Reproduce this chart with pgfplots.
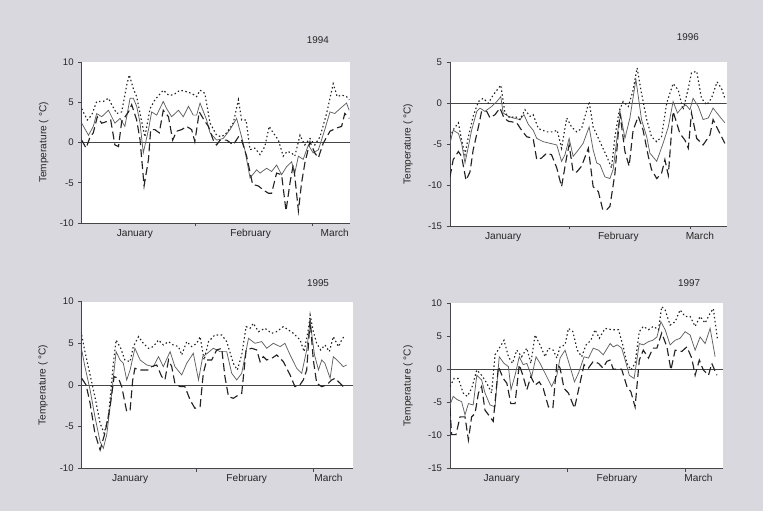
\documentclass[border=0pt]{standalone}
\usepackage{fontspec}
\setmainfont{Liberation Sans}
\usepackage{pgfplots}
\pgfplotsset{compat=1.18}
\definecolor{bg}{RGB}{217,216,222}
\definecolor{axisgray}{RGB}{70,70,70}
\definecolor{meangray}{RGB}{95,95,95}
\definecolor{dark}{RGB}{35,35,35}
\pgfplotsset{
  panel/.style={
    scale only axis,
    axis x line*=bottom, axis y line*=left,
    axis line style={draw=axisgray, line width=0.7pt},
    axis background/.style={fill=white},
    xmin=0, ytick distance=5,
    tick align=outside, major tick length=2.5pt,
    tick style={draw=axisgray, line width=0.5pt},
    ticklabel style={font=\fontsize{7.2}{8}\selectfont, text=black!85},
    /pgf/number format/assume math mode=true,
    xticklabels={},
    extra x tick style={major tick length=0pt, tick style={draw=none}},
    extra x tick labels={January,February,March},
    extra x tick style={xticklabel style={font=\fontsize{7.6}{8}\selectfont, yshift=-1pt}},
    ylabel={Temperature ( °C)},
    ylabel style={font=\fontsize{7.6}{8}\selectfont, text=black!85, anchor=center},
    title style={font=\fontsize{7.4}{8}\selectfont, text=black!85, anchor=center},
    clip=true,
  },
  mean/.style={meangray, line width=0.55pt},
  maxs/.style={dark, line width=0.85pt, dash pattern=on 1.1pt off 1.9pt},
  mins/.style={dark, line width=0.85pt, dash pattern=on 6pt off 3pt},
  zero/.style={axisgray, line width=0.6pt},
}
\begin{document}
\begin{tikzpicture}
\useasboundingbox (0pt,0pt) rectangle (572.25pt,383.25pt);
\fill[bg] (0pt,0pt) rectangle (572.25pt,383.25pt);

% ---------------- 1994 ----------------
\begin{axis}[panel, at={(61.28pt,216pt)}, anchor=south west,
  width=201.2pt, height=120.75pt,
  xmax=67.1, ymin=-10, ymax=10,
  xtick={28.5,57.7}, extra x ticks={13.3,42.25,63.3},
  ylabel style={at={(axis description cs:-0.1416,0.5)}},
  title={1994}, title style={at={(axis description cs:0.88,1)}, yshift=10.5pt}]
\addplot[zero] coordinates {(0,0) (67.1,0)};
\addplot[mean] coordinates {(0,2.4) (1.7,0.9) (2.9,2.0) (3.75,3.6) (5.0,3.2) (6.7,4.0) (8.3,2.4) (9.6,3.0) (10.8,2.0) (12.1,5.5) (12.9,5.5) (13.75,4.5) (14.6,2.4) (15.4,-1.3) (16.7,1.6) (17.5,3.8) (18.75,3.4) (20.4,5.1) (21.25,4.2) (22.5,3.2) (24.2,4.0) (25.4,3.2) (26.7,4.5) (27.9,3.4) (28.75,3.4) (29.6,4.9) (31.25,2.8) (32.1,1.2) (33.75,0.3) (35.4,0.5) (37.1,1.6) (38.75,3.0) (40.0,0.7) (40.8,-0.9) (42.1,-4.4) (43.75,-3.4) (44.6,-3.8) (46.25,-3.2) (47.5,-3.6) (48.75,-2.8) (50.0,-4.0) (51.25,-3.0) (52.5,-2.4) (53.3,-3.8) (54.2,-1.7) (55.4,-2.1) (56.7,-0.3) (57.9,-1.3) (59.2,-0.9) (60.8,1.6) (62.1,3.8) (63.3,3.6) (64.6,4.2) (66.25,4.9) (66.9,4.0)};
\addplot[maxs] coordinates {(0,4.2) (1.4,2.8) (2.5,3.4) (3.75,5.1) (5.4,5.1) (6.7,5.5) (7.5,4.7) (8.75,3.6) (10.0,3.8) (11.25,7.1) (11.9,8.4) (12.9,6.7) (13.75,5.7) (15.0,2.6) (15.8,0.7) (17.1,4.2) (18.3,5.3) (20.4,6.5) (21.7,5.9) (22.9,5.9) (24.6,6.5) (26.25,6.3) (27.5,6.1) (28.75,5.7) (29.6,6.5) (30.8,6.1) (32.1,2.4) (33.75,0.9) (35.0,0.7) (36.25,1.2) (37.9,2.4) (39.2,5.3) (40.0,2.8) (41.1,2.8) (42.1,-0.9) (43.3,-0.7) (44.6,-1.5) (45.8,-0.5) (46.9,2.0) (47.9,1.2) (49.2,0.3) (50.4,-1.7) (51.4,-1.1) (52.5,-1.3) (53.3,-1.7) (54.6,0.9) (55.8,-0.3) (57.1,0.5) (58.3,-0.3) (59.6,0.7) (61.25,3.6) (62.9,7.3) (63.9,5.7) (65.0,5.9) (66.25,5.7) (66.9,5.3)};
\addplot[mins] coordinates {(0,0.3) (1.1,-0.7) (2.1,0.7) (2.9,1.2) (3.9,3.2) (5.0,2.4) (6.25,2.6) (7.25,2.8) (8.3,-0.3) (9.2,-0.5) (10.0,2.6) (11.7,3.8) (12.5,4.7) (13.75,2.8) (14.6,0.3) (15.6,-5.4) (16.7,-2.1) (17.25,1.6) (18.3,1.6) (19.4,1.2) (20.4,4.0) (21.7,3.2) (22.75,0.3) (23.75,1.4) (25.0,1.6) (26.25,2.0) (27.5,1.6) (28.3,0.1) (29.4,3.8) (30.6,2.8) (31.7,2.0) (32.9,0.3) (33.75,-0.3) (34.6,0.3) (36.25,0.3) (37.9,-0.3) (39.2,0.7) (40.0,0.3) (41.25,-1.7) (42.75,-5.2) (44.2,-5.4) (45.4,-5.9) (46.7,-6.3) (47.5,-6.3) (48.75,-3.8) (50.0,-4.0) (51.1,-8.5) (52.1,-5.0) (52.9,-2.8) (53.3,-4.2) (54.2,-8.5) (55.0,-5.0) (55.8,-2.6) (57.1,0.1) (58.3,-1.3) (59.2,-1.9) (60.4,-0.1) (62.1,1.4) (63.75,1.8) (65.0,2.0) (65.8,3.6) (66.9,3.0)};
\end{axis}

% ---------------- 1996 ----------------
\begin{axis}[panel, at={(337.5pt,213.75pt)}, anchor=south west,
  width=207.5pt, height=122.8pt,
  xmax=69.2, ymin=-15, ymax=5,
  xtick={29.75,60}, extra x ticks={13.3,42.1,62.5},
  ylabel style={at={(axis description cs:-0.1518,0.5)}},
  title={1996}, title style={at={(axis description cs:0.86,1)}, yshift=12.7pt}]
\addplot[zero] coordinates {(0,0) (69.2,0)};
\addplot[mean] coordinates {(0,-4.9) (0.8,-3.3) (2.1,-3.7) (2.9,-4.9) (3.75,-7.3) (4.6,-5.3) (5.4,-3.3) (6.7,-1.0) (7.5,-0.6) (8.75,-1.0) (10.4,-0.4) (11.7,0.2) (12.7,0.8) (13.3,-1.2) (14.6,-1.6) (15.8,-1.8) (17.5,-2.0) (18.5,-1.4) (19.6,-2.6) (20.8,-3.3) (21.7,-4.3) (23.3,-4.7) (25.0,-4.9) (26.7,-5.1) (27.9,-7.1) (28.75,-6.3) (29.8,-4.3) (30.8,-6.5) (32.1,-5.7) (33.3,-4.9) (34.8,-2.9) (35.8,-5.7) (36.7,-7.3) (37.5,-7.5) (38.75,-9.0) (40.0,-9.2) (40.8,-8.1) (42.1,-2.9) (42.7,-1.4) (43.75,-4.3) (45.0,-1.8) (46.5,2.9) (47.9,-2.0) (49.2,-4.1) (50.0,-6.1) (51.7,-7.1) (53.3,-4.9) (54.6,-2.9) (55.8,0.2) (56.9,-1.2) (57.9,-0.6) (59.0,-0.2) (60.0,-0.8) (60.8,0.6) (62.1,-0.4) (63.3,-2.0) (64.6,-1.8) (65.8,-0.6) (67.1,-1.4) (68.75,-2.4)};
\addplot[maxs] coordinates {(0,-4.1) (1.0,-3.1) (2.1,-2.4) (2.9,-4.5) (3.75,-6.3) (4.6,-4.1) (5.8,-1.6) (7.1,0.2) (8.3,0.6) (9.6,0) (10.8,1.0) (12.7,2.2) (13.75,-1.2) (15.0,-1.8) (16.25,-1.6) (17.5,-2.0) (18.75,-0.8) (20.0,-1.6) (20.8,-1.4) (22.1,-3.1) (24.2,-3.5) (25.8,-3.5) (26.8,-3.3) (27.9,-5.5) (29.2,-1.8) (30.4,-2.9) (31.7,-3.5) (32.9,-3.1) (34.8,0.2) (35.8,-2.9) (37.5,-4.7) (39.2,-6.5) (40.4,-7.9) (41.25,-4.1) (42.3,-1.0) (43.3,0.2) (44.6,-0.4) (45.7,1.4) (46.8,4.3) (47.9,1.2) (49.2,-2.0) (50.4,-4.1) (51.7,-4.7) (52.9,-4.1) (54.2,0) (55.8,2.4) (57.1,1.6) (58.3,-0.8) (59.6,1.8) (60.4,3.7) (61.7,3.9) (62.9,0.6) (64.2,-0.2) (65.4,0.6) (66.8,2.6) (67.9,1.8) (68.75,0.6)};
\addplot[mins] coordinates {(0,-9.0) (0.8,-6.9) (2.1,-5.9) (2.9,-6.5) (4.0,-9.4) (5.0,-8.4) (5.8,-5.7) (7.1,-2.9) (7.9,-1.0) (9.2,-1.0) (10.0,-1.8) (11.25,-1.4) (12.5,-0.6) (13.5,-1.8) (14.6,-2.2) (16.7,-2.4) (17.9,-3.3) (19.2,-4.1) (20.8,-4.3) (21.7,-6.9) (22.9,-6.7) (24.2,-6.1) (25.4,-6.3) (26.7,-7.9) (27.9,-10.2) (29.2,-6.5) (29.8,-5.1) (30.8,-8.4) (31.7,-8.4) (32.9,-7.7) (34.6,-5.5) (35.8,-10.2) (37.1,-10.8) (38.2,-13.0) (39.2,-13.0) (40.0,-12.6) (41.25,-8.6) (42.5,-1.2) (43.75,-5.9) (44.8,-7.7) (45.8,-3.3) (47.1,-1.6) (48.3,-3.3) (49.6,-6.5) (50.4,-8.1) (51.7,-9.2) (52.9,-8.6) (53.75,-6.9) (54.6,-8.8) (55.8,-1.0) (57.5,-3.7) (58.75,-4.5) (59.6,-5.5) (60.4,-1.2) (61.7,-4.3) (63.3,-5.1) (65.0,-3.9) (65.8,-2.0) (67.1,-3.3) (68.75,-4.9)};
\end{axis}

% ---------------- 1995 ----------------
\begin{axis}[panel, at={(61.28pt,32.03pt)}, anchor=south west,
  width=203.7pt, height=125pt,
  xmax=67.9, ymin=-10, ymax=10,
  xtick={28.75,57.8}, extra x ticks={12.1,41.25,61.7},
  ylabel style={at={(axis description cs:-0.1425,0.5)}},
  title={1995}, title style={at={(axis description cs:0.87,1)}, yshift=8pt}]
\addplot[zero] coordinates {(0,0) (67.9,0)};
\addplot[mean] coordinates {(0,4.2) (0.8,2.2) (2.1,-0.6) (3.3,-3.8) (4.6,-6.8) (5.4,-7.6) (6.25,-6.0) (7.5,-1.0) (8.6,4.0) (9.6,3.0) (10.4,2.6) (11.25,0.6) (12.1,1.8) (13.3,4.4) (14.6,3.0) (16.25,2.4) (17.9,2.2) (19.2,3.4) (20.4,2.2) (22.1,4.0) (23.3,2.2) (25.0,1.2) (26.25,2.6) (27.9,3.8) (29.2,0.6) (30.25,3.4) (31.4,3.8) (32.9,4.4) (34.6,4.0) (36.25,4.0) (37.5,1.4) (38.75,0.6) (40.0,1.4) (41.7,5.6) (43.3,5.0) (45.0,5.2) (46.25,4.4) (47.9,5.0) (49.6,4.6) (50.8,5.0) (52.1,3.6) (53.75,2.0) (55.0,1.4) (56.25,4.2) (57.1,7.6) (58.2,3.6) (59.2,1.8) (60.0,3.0) (60.8,2.6) (62.1,0.8) (62.9,3.4) (64.2,2.8) (65.4,2.2) (66.25,2.4)};
\addplot[maxs] coordinates {(0,6.0) (0.8,4.0) (2.1,1.2) (3.3,-1.4) (4.6,-4.6) (5.6,-5.8) (6.7,-3.8) (7.9,2.6) (8.6,5.4) (9.75,4.4) (10.8,3.0) (12.1,2.8) (12.9,4.6) (14.2,5.8) (15.4,5.0) (16.7,4.4) (17.9,4.6) (19.2,5.4) (20.4,4.8) (21.7,5.2) (22.9,4.8) (24.2,4.6) (25.0,3.6) (26.25,5.2) (27.5,4.6) (28.75,5.0) (29.6,5.8) (30.6,3.0) (31.7,5.2) (33.3,6.0) (35.0,6.0) (36.25,5.2) (37.9,2.6) (38.9,1.8) (40.0,3.6) (41.1,7.0) (42.1,6.8) (42.9,7.4) (44.2,6.4) (45.8,6.8) (47.5,6.2) (48.75,6.4) (50.4,7.0) (51.7,6.6) (52.9,6.2) (54.6,5.4) (55.6,4.0) (56.7,6.8) (57.1,8.4) (57.9,6.4) (58.75,5.0) (59.75,4.2) (60.8,4.8) (61.9,4.0) (62.9,5.8) (64.2,4.6) (65.0,5.4) (65.8,6.0)};
\addplot[mins] coordinates {(0,0.8) (1.1,0) (2.1,-2.2) (3.3,-5.8) (4.6,-7.8) (5.8,-5.8) (7.1,-2.6) (8.1,1.0) (9.2,0.8) (10.0,-0.2) (11.25,-3.2) (12.1,-3.0) (12.75,0.6) (13.3,2.0) (14.6,1.8) (15.8,1.8) (16.7,1.8) (17.5,2.2) (18.75,2.4) (20.0,1.0) (20.8,0.6) (21.7,3.0) (22.5,2.2) (23.3,0.2) (24.6,-0.2) (25.8,-0.2) (27.1,-1.8) (28.3,-2.8) (29.6,-2.6) (30.4,1.4) (31.25,3.0) (32.5,3.0) (33.75,4.2) (35.0,4.4) (35.8,1.0) (36.7,-1.4) (37.9,-1.6) (39.2,-1.2) (40.0,-1.0) (41.1,4.2) (42.5,4.4) (43.75,4.2) (44.6,2.8) (45.4,3.4) (46.25,3.0) (47.5,3.2) (48.75,3.6) (49.6,3.2) (50.4,2.8) (52.1,1.2) (53.3,-0.2) (54.4,-0.1) (55.4,0.6) (56.25,1.8) (57.1,7.8) (57.9,3.0) (58.75,0.2) (60.0,-0.2) (61.25,0) (62.5,0.6) (63.3,0.8) (64.6,0.2) (65.4,-0.2)};
\end{axis}

% ---------------- 1997 ----------------
\begin{axis}[panel, at={(337.5pt,32.03pt)}, anchor=south west,
  width=205pt, height=123.75pt,
  xmax=68.3, ymin=-15, ymax=10,
  xtick={29.2,58.75}, extra x ticks={12.9,41.7,62.1},
  ylabel style={at={(axis description cs:-0.1537,0.5)}},
  title={1997}, title style={at={(axis description cs:0.875,1)}, yshift=9pt}]
\addplot[zero] coordinates {(0,0) (68.3,0)};
\addplot[mean] coordinates {(0,-5.4) (0.8,-4.1) (1.8,-4.6) (2.9,-4.9) (3.75,-6.9) (4.6,-5.2) (5.8,-5.4) (6.7,-0.9) (7.9,-1.6) (8.75,-3.6) (10.0,-5.4) (11.25,-5.7) (12.3,1.9) (13.5,0.9) (14.6,0.4) (15.25,-3.1) (16.25,-0.9) (17.3,1.9) (18.3,0.7) (19.2,0.9) (20.4,-1.1) (21.5,1.9) (22.5,0.9) (23.75,-0.6) (25.4,-2.6) (26.7,-0.9) (27.5,1.7) (28.75,2.9) (30.0,0.4) (31.1,-1.9) (32.1,-0.6) (33.5,1.9) (34.6,1.7) (35.8,3.2) (37.1,2.9) (38.3,2.2) (40.0,3.9) (40.8,3.4) (41.8,3.7) (42.9,3.2) (44.0,0.9) (44.8,-0.9) (46.0,-1.4) (47.3,3.9) (48.3,3.7) (49.6,4.2) (50.7,4.4) (51.7,4.9) (52.7,7.2) (53.75,6.0) (55.0,3.7) (56.25,4.4) (57.5,4.7) (58.75,5.7) (60.0,5.2) (61.25,2.9) (62.5,4.9) (63.75,3.9) (65.0,6.2) (66.25,1.9)};
\addplot[maxs] coordinates {(0,-2.6) (1.0,-1.4) (2.1,-1.4) (3.3,-3.6) (4.3,-4.1) (5.4,-2.9) (6.7,-0.1) (7.9,-0.9) (9.2,-2.1) (10.4,-3.6) (11.25,2.2) (12.3,3.2) (13.5,4.4) (14.6,1.9) (15.6,0.9) (16.7,2.9) (17.9,1.9) (19.2,3.2) (20.2,0.9) (21.25,5.2) (22.5,3.7) (23.75,1.9) (24.6,3.2) (25.8,2.9) (26.7,1.7) (27.5,3.4) (28.75,3.7) (29.6,6.2) (30.7,5.7) (31.8,2.9) (32.9,1.9) (34.0,3.7) (35.2,4.4) (36.25,6.0) (37.3,4.7) (38.75,6.2) (40.4,6.0) (42.1,6.0) (43.3,3.4) (44.2,0.9) (45.2,-0.1) (46.25,0.9) (47.3,5.7) (48.3,6.5) (49.6,6.0) (50.8,6.5) (52.1,6.0) (52.9,9.5) (53.75,9.0) (55.0,6.7) (56.25,7.2) (57.5,9.0) (58.75,8.0) (60.0,8.0) (61.25,6.5) (62.5,8.0) (63.75,7.0) (65.0,8.5) (65.8,9.2) (66.8,4.7)};
\addplot[mins] coordinates {(0,-5.9) (0.4,-9.9) (1.5,-9.9) (2.5,-7.2) (3.75,-7.2) (4.6,-10.7) (5.4,-7.2) (6.25,-6.7) (7.1,-3.6) (7.9,-2.6) (8.75,-6.2) (10.0,-7.2) (10.8,-7.9) (12.1,0.4) (13.3,-1.4) (14.2,-2.1) (15.2,-5.2) (16.25,-5.2) (17.3,0.7) (18.2,-0.9) (19.2,-3.1) (20.2,-1.1) (21.25,-2.4) (22.3,-1.9) (23.3,-2.9) (24.6,-5.7) (25.7,-5.9) (26.7,0.9) (27.5,0.2) (28.5,-2.9) (29.6,-3.6) (31.1,-5.9) (32.3,-2.6) (33.5,0.7) (34.6,0.2) (35.8,1.2) (37.1,0.9) (38.2,0.2) (39.2,1.2) (40.0,1.4) (40.8,0) (42.9,0) (44.2,-2.6) (45.2,-3.4) (46.25,-5.7) (47.3,1.4) (48.3,2.9) (49.6,1.7) (50.7,3.2) (51.7,3.2) (52.9,5.5) (54.2,3.4) (55.2,-0.1) (56.25,2.9) (57.9,2.7) (59.2,3.4) (60.4,1.7) (61.25,-0.9) (62.3,1.4) (63.3,-0.1) (64.6,-0.9) (65.4,0.9) (66.7,-0.9)};
\end{axis}
\end{tikzpicture}
\end{document}
